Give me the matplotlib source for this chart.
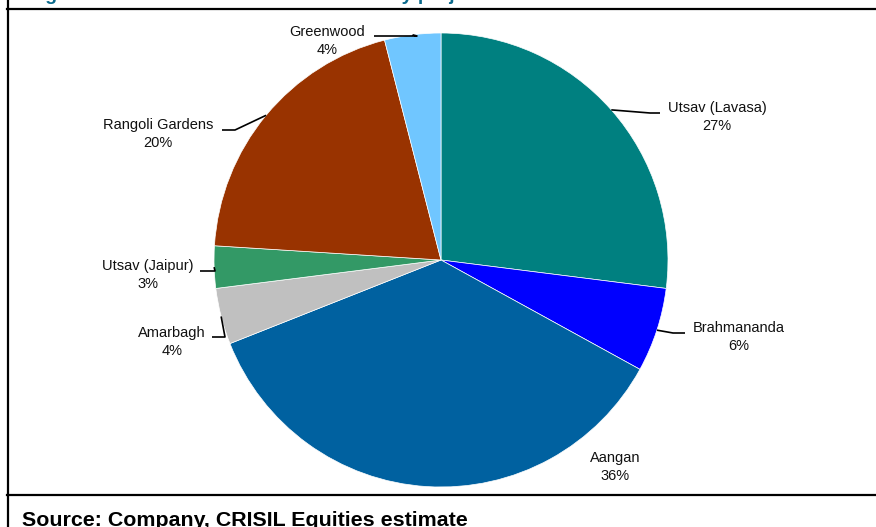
import matplotlib.pyplot as plt
import numpy as np

plt.rcParams['font.family'] = ['Liberation Sans', 'DejaVu Sans']

projects = ['Utsav (Lavasa)', 'Brahmananda', 'Aangan', 'Amarbagh',
            'Utsav (Jaipur)', 'Rangoli Gardens', 'Greenwood']
shares = [27, 6, 36, 4, 3, 20, 4]
colors = ['#008080', '#0000FF', '#0061A0', '#C0C0C0',
          '#339966', '#993300', '#70C6FF']

# label text centre and leader elbow/end points (pixel layout, y up)
label_xy = [(717, 410), (739, 190), (615, 60), (172, 185),
            (148, 252), (158, 393), (327, 486)]
leaders = [[(650, 414), (660, 414)],
           [(673, 194), (685, 194)],
           None,
           [(225, 190), (212, 190)],
           [(215, 256), (200, 256)],
           [(235, 397), (222, 397)],
           [(417, 491), (374, 491)]]

W, H = 876, 527
fig = plt.figure(figsize=(W / 100, H / 100), dpi=100)
ax = fig.add_axes([0, 0, 1, 1])

cx, cy, r = 441, 267, 227
wedges, _ = ax.pie(shares, colors=colors, startangle=90, counterclock=False,
                   center=(cx, cy), radius=r, frame=True,
                   wedgeprops=dict(edgecolor='white', linewidth=0.5))
ax.set_xlim(0, W)
ax.set_ylim(0, H)
ax.set_aspect('equal')
ax.axis('off')

for w, name, val, (tx, ty), ld in zip(wedges, projects, shares, label_xy, leaders):
    ax.text(tx, ty, f'{name}\n{val}%', ha='center', va='center',
            fontsize=10.5, linespacing=1.3, color='#111111')
    if ld is None:
        continue
    mid = np.deg2rad((w.theta1 + w.theta2) / 2)
    sx, sy = cx + r * np.cos(mid), cy + r * np.sin(mid)
    xs = [sx] + [p[0] for p in ld]
    ys = [sy] + [p[1] for p in ld]
    ax.plot(xs, ys, color='black', lw=1.2, solid_capstyle='butt')

# frame lines
ax.plot([7.5, 7.5], [0, H], color='black', lw=1.6)
ax.plot([7, W], [518, 518], color='black', lw=1.6)
ax.plot([7, W], [32, 32], color='black', lw=1.6)

# heading and source line run off the top/bottom edges of the page
ax.text(28, 527, 'Figure 13: Revenue contribution share by project',
        ha='left', va='baseline', fontsize=14, fontweight='bold',
        color='#0B6A8C')
ax.text(22, 0.5, 'Source: Company, CRISIL Equities estimate', ha='left',
        va='baseline', fontsize=15.4, fontweight='bold', color='black')

fig.savefig('out.png', dpi=100)
